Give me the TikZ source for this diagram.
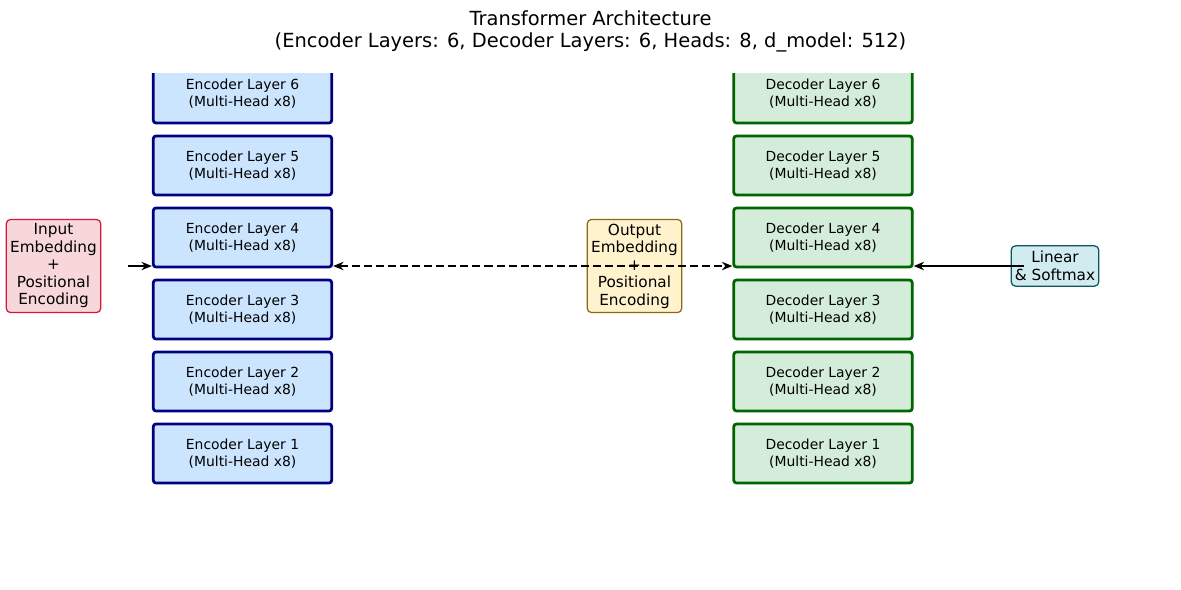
\documentclass[tikz,border=0pt]{standalone}
\usepackage{fontspec}
\setmainfont{DejaVu Sans}
\usetikzlibrary{arrows.meta}
\definecolor{encfill}{HTML}{CCE5FF}
\definecolor{encedge}{HTML}{000080}
\definecolor{decfill}{HTML}{D4EDDA}
\definecolor{decedge}{HTML}{006400}
\definecolor{inpfill}{HTML}{F8D7DA}
\definecolor{inpedge}{HTML}{DC143C}
\definecolor{outfill}{HTML}{FFF3CD}
\definecolor{outedge}{HTML}{8B6914}
\definecolor{linfill}{HTML}{D1ECF1}
\definecolor{linedge}{HTML}{0C5460}
\tikzset{
  layerbox/.style={rectangle, rounded corners=2pt, line width=2pt, minimum width=128.5pt, minimum height=42.5pt, inner sep=0pt, align=center, font=\fontsize{10}{12.2}\selectfont},
  encbox/.style={layerbox, draw=encedge, fill=encfill},
  decbox/.style={layerbox, draw=decedge, fill=decfill},
  smallbox/.style={rectangle, rounded corners=3pt, line width=0.9pt, inner sep=0pt, align=center, font=\fontsize{11}{12.6}\selectfont},
  arr/.style={line width=1.5pt, -{Stealth[length=7.5pt,width=6pt]}},
  dasharr/.style={line width=1.5pt, dash pattern=on 5.8pt off 2.9pt, {Stealth[length=7.5pt,width=6pt]}-{Stealth[length=7.5pt,width=6pt]}}
}
\begin{document}
\begin{tikzpicture}[x=0.72pt,y=-0.72pt]
\useasboundingbox (0,0) rectangle (1181,589);
\node[align=center, font=\fontsize{14}{15.8}\selectfont] (title) at (590.5,31) {Transformer Architecture\\(Encoder Layers: 6, Decoder Layers: 6, Heads: 8, d\_model: 512)};
\begin{scope}
\clip (0,73) rectangle (1181,589);
\foreach \k in {1,...,6} {
  \node[encbox] (enc\k) at (242.5,{453.5-72*(\k-1)}) {Encoder Layer \k\\(Multi-Head x8)};
  \node[decbox] (dec\k) at (823,{453.5-72*(\k-1)}) {Decoder Layer \k\\(Multi-Head x8)};
}
\end{scope}
\node[smallbox, draw=inpedge, fill=inpfill, minimum width=68pt, minimum height=67pt] (inp) at (53.5,266) {Input\\Embedding\\+\\Positional\\Encoding};
\node[smallbox, draw=outedge, fill=outfill, minimum width=68pt, minimum height=67pt] (out) at (634.5,266) {Output\\Embedding\\+\\Positional\\Encoding};
\node[smallbox, draw=linedge, fill=linfill, minimum width=63pt, minimum height=29pt] (lin) at (1055,266) {Linear\\\& Softmax};
\coordinate (a) at (128,266);
\coordinate (b) at (1024,266);
\draw[arr] (a) -- (enc4.west |- a);
\draw[dasharr] (enc4.east |- a) -- (dec4.west |- a);
\draw[arr] (b) -- (dec4.east |- b);
\end{tikzpicture}
\end{document}
